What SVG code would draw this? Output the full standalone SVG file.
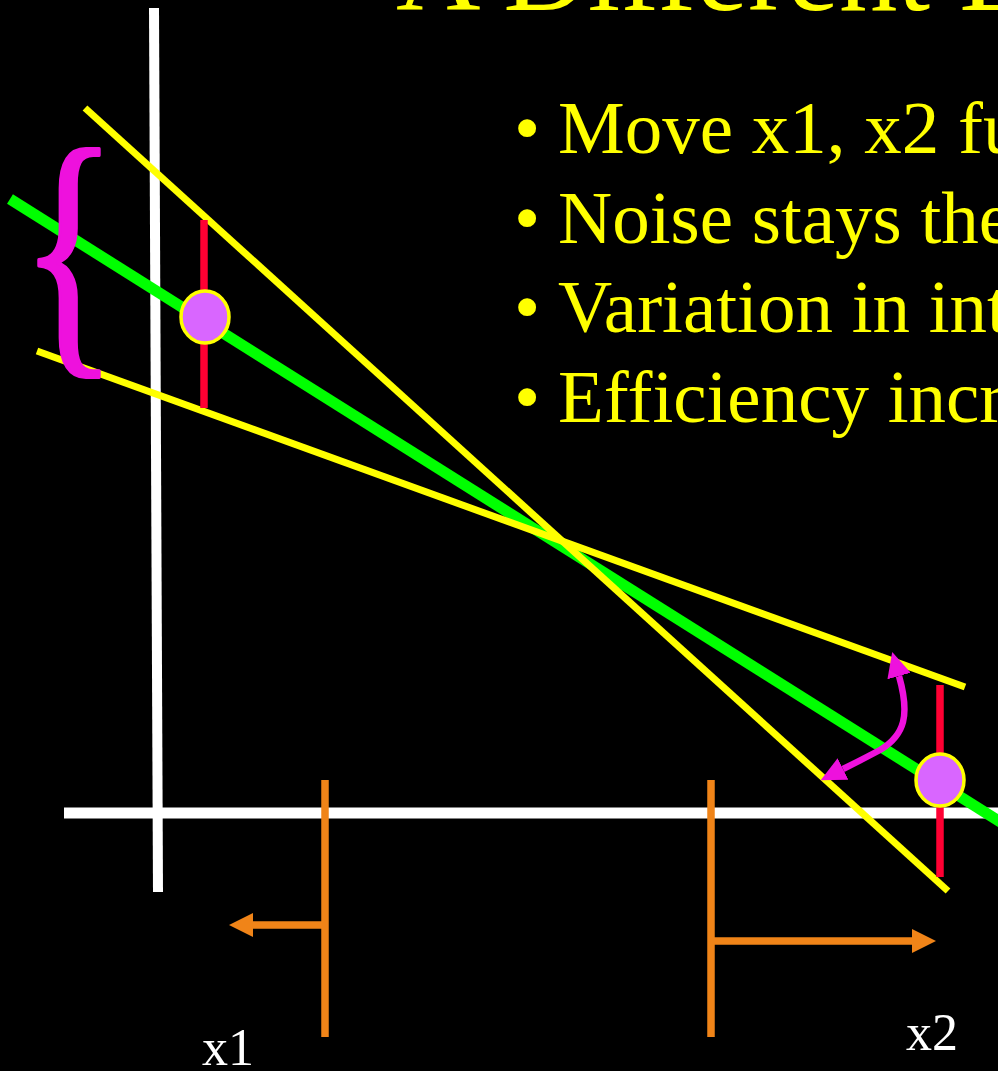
<svg xmlns="http://www.w3.org/2000/svg" width="998" height="1071" viewBox="0 0 998 1071">
<style>
.serif{font-family:"Liberation Serif","Times New Roman",serif}
.yl{stroke:#ffff00;stroke-width:7;fill:none}
.bul{fill:#ffff00;font-size:75px}
.orange{stroke:#f08418;stroke-width:7.5;fill:none}
.red{stroke:#ff0033;stroke-width:7.5}
.pt{fill:#d966ff;stroke:#ffff00;stroke-width:3.5}
.lbl{fill:#ffffff;font-size:52px}
</style>
<defs>
<marker id="ao" viewBox="0 -12 24 24" refX="0" refY="0" markerWidth="24" markerHeight="24" markerUnits="userSpaceOnUse" orient="auto"><path d="M0,-12 L24,0 L0,12 z" fill="#f08418"/></marker>
<marker id="am" viewBox="0 -12 25 24" refX="0" refY="0" markerWidth="25" markerHeight="24" markerUnits="userSpaceOnUse" orient="auto-start-reverse"><path d="M0,-12 L25,0 L0,12 z" fill="#ee11dd"/></marker>
</defs>
<rect x="0" y="0" width="998" height="1071" fill="#000000"/>
<g id="title"><text class="serif" x="396" y="10" font-size="117" fill="#ffff00">A Different E</text></g>
<g id="bullets" class="serif">
<text class="bul" x="514" y="153">•</text><text class="bul" x="558" y="153">Move x1, x2 fu</text>
<text class="bul" x="514" y="243">•</text><text class="bul" x="558" y="243">Noise stays the</text>
<text class="bul" x="514" y="332">•</text><text class="bul" x="558" y="332">Variation in int</text>
<text class="bul" x="514" y="422">•</text><text class="bul" x="558" y="422">Efficiency incr</text>
</g>
<g id="axes">
<line x1="154" y1="8" x2="158" y2="892" stroke="#ffffff" stroke-width="10"/>
<line x1="64" y1="813" x2="998" y2="813" stroke="#ffffff" stroke-width="11"/>
</g>
<g id="fit-lines">
<line x1="10" y1="199" x2="1010" y2="828" stroke="#00ff00" stroke-width="11"/>
<line class="yl" x1="85" y1="108" x2="948" y2="891"/>
<line class="yl" x1="37" y1="351" x2="965" y2="687"/>
</g>
<g id="point-left">
<line class="red" x1="204" y1="220" x2="204" y2="408"/>
<ellipse class="pt" cx="205" cy="317" rx="24" ry="26"/>
</g>
<g id="point-right">
<line class="red" x1="940" y1="685" x2="940" y2="877"/>
<ellipse class="pt" cx="940" cy="780" rx="24" ry="26"/>
</g>
<g id="brace"><text class="serif" transform="translate(12.5,2.5) scale(0.76,1.03)" x="10" y="328" font-size="268" fill="#ee11dd" stroke="#ee11dd" stroke-width="3.5" stroke-linejoin="round">{</text></g>
<g id="x1-marker">
<line class="orange" x1="325" y1="780" x2="325" y2="1037"/>
<text class="serif lbl" x="202" y="1065">x1</text>
</g>
<g id="x2-marker">
<line class="orange" x1="711" y1="780" x2="711" y2="1037"/>
<text class="serif lbl" x="906" y="1050">x2</text>
</g>
<g id="connectors">
<line class="orange" x1="328" y1="925" x2="253" y2="925" marker-end="url(#ao)"/>
<line class="orange" x1="708" y1="941" x2="912" y2="941" marker-end="url(#ao)"/>
<path d="M899,676 C910,715 905,735 880,750 C865,758 855,763 843,769" stroke="#ee11dd" stroke-width="6.5" fill="none" marker-start="url(#am)" marker-end="url(#am)"/>
</g>
</svg>
